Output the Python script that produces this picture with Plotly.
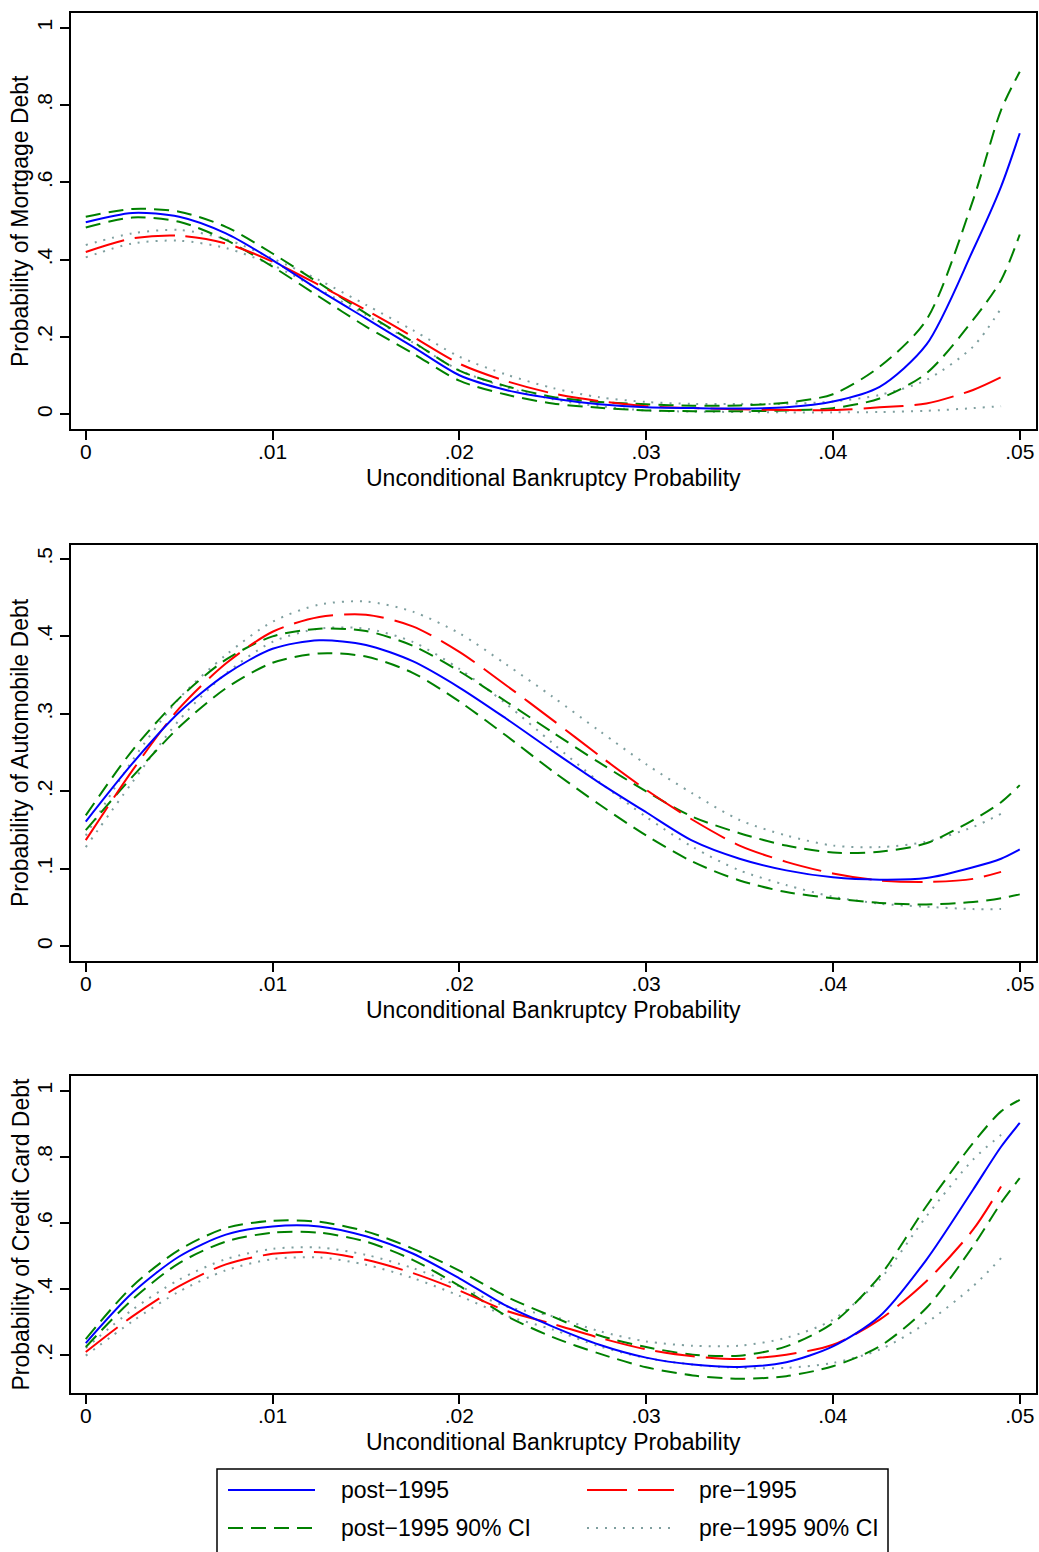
import plotly.graph_objects as go

# Grid of unconditional bankruptcy probabilities
x_post = [0, .0025, .005, .0075, .01, .0125, .015, .0175, .02, .0225, .025, .0275,
          .03, .0325, .035, .0375, .04, .0425, .045, .0475, .049, .05]
x_pre = x_post[:-1]

# ---- Mortgage debt ----
mort_post = [.497, .521, .511, .468, .399, .321, .248, .175, .101, .063, .041, .026,
             .018, .016, .015, .018, .033, .071, .180, .425, .589, .727]
mort_post_hi = [.511, .531, .524, .485, .416, .339, .261, .188, .113, .073, .045, .032,
                .026, .022, .023, .030, .052, .123, .244, .554, .787, .886]
mort_post_lo = [.483, .509, .498, .451, .382, .304, .227, .158, .087, .051, .028, .017,
                .010, .008, .008, .010, .016, .041, .106, .244, .347, .465]
mort_pre = [.420, .455, .462, .442, .395, .334, .270, .201, .131, .086, .054, .034,
            .021, .016, .013, .011, .011, .018, .028, .063, .096]
mort_pre_hi = [.438, .468, .477, .453, .403, .347, .283, .218, .149, .103, .068, .044,
               .032, .027, .027, .027, .033, .050, .089, .175, .274]
mort_pre_lo = [.406, .442, .449, .430, .386, .323, .257, .186, .114, .070, .039, .021,
               .010, .007, .006, .005, .005, .006, .009, .016, .021]

# ---- Automobile debt ----
auto_post = [.161, .236, .302, .351, .384, .395, .389, .368, .334, .294, .252, .211,
             .173, .136, .113, .098, .089, .086, .088, .102, .113, .125]
auto_post_hi = [.169, .253, .320, .370, .400, .410, .407, .388, .355, .316, .276, .237,
                .200, .167, .146, .130, .121, .122, .133, .163, .186, .208]
auto_post_lo = [.150, .219, .283, .333, .366, .378, .374, .353, .316, .272, .226, .183,
                .143, .109, .085, .070, .062, .056, .054, .057, .062, .067]
auto_pre = [.137, .227, .307, .365, .406, .425, .428, .413, .380, .337, .292, .246,
            .202, .163, .130, .109, .094, .085, .083, .087, .096]
auto_pre_hi = [.143, .240, .320, .376, .419, .441, .445, .432, .404, .364, .322, .278,
               .235, .197, .163, .143, .130, .128, .135, .154, .171]
auto_pre_lo = [.128, .212, .292, .352, .393, .410, .410, .393, .358, .313, .262, .212,
               .167, .128, .098, .079, .064, .055, .051, .048, .048]

# ---- Credit card debt ----
cc_post = [.237, .389, .499, .565, .590, .590, .560, .508, .433, .350, .287, .232,
           .193, .172, .165, .179, .227, .318, .489, .701, .831, .903]
cc_post_hi = [.249, .409, .519, .585, .607, .604, .575, .523, .456, .378, .317, .260,
              .225, .202, .199, .227, .298, .439, .651, .842, .938, .973]
cc_post_lo = [.225, .369, .479, .544, .571, .571, .544, .489, .410, .320, .255, .205,
              .164, .139, .129, .137, .167, .227, .343, .530, .661, .736]
cc_pre = [.210, .318, .409, .475, .507, .512, .489, .449, .396, .335, .295, .253,
          .218, .197, .189, .202, .232, .308, .424, .580, .711]
cc_pre_hi = [.222, .338, .429, .491, .522, .526, .504, .464, .409, .348, .318, .273,
             .242, .229, .229, .253, .308, .429, .620, .792, .867]
cc_pre_lo = [.199, .303, .393, .457, .491, .496, .474, .434, .380, .320, .278, .227,
             .192, .172, .162, .162, .177, .217, .298, .409, .494]

x_ticks = [0, .01, .02, .03, .04, .05]
x_tick_text = ["0", ".01", ".02", ".03", ".04", ".05"]

legend_labels = ["post−1995", "pre−1995", "post−1995 90% CI", "pre−1995 90% CI"]

panels = [
    dict(title="Probability of Mortgage Debt",
         ticks=[0, .2, .4, .6, .8, 1], labels=["0", ".2", ".4", ".6", ".8", "1"],
         yrange=[-0.038, 1.038], top=13, bottom=429, xtitle_y=478,
         data=(mort_post, mort_pre, mort_post_hi, mort_post_lo, mort_pre_hi, mort_pre_lo)),
    dict(title="Probability of Automobile Debt",
         ticks=[0, .1, .2, .3, .4, .5], labels=["0", ".1", ".2", ".3", ".4", ".5"],
         yrange=[-0.019, 0.518], top=545, bottom=961, xtitle_y=1010,
         data=(auto_post, auto_pre, auto_post_hi, auto_post_lo, auto_pre_hi, auto_pre_lo)),
    dict(title="Probability of Credit Card Debt",
         ticks=[.2, .4, .6, .8, 1], labels=[".2", ".4", ".6", ".8", "1"],
         yrange=[0.086, 1.045], top=1076, bottom=1393, xtitle_y=1442,
         data=(cc_post, cc_pre, cc_post_hi, cc_post_lo, cc_pre_hi, cc_pre_lo)),
]

W, H = 1039, 1552
FONT = "Liberation Sans, Arial, Helvetica, sans-serif"

BLUE = dict(color="#0000ff", width=2, dash="solid")
RED = dict(color="#ff0000", width=2, dash="40px,11px")
GREEN = dict(color="#008000", width=2, dash="15px,8px")
GRAY = dict(color="#7f9f9f", width=2, dash="2px,7px")


def px_x(v):
    return v / W


def px_y(v):
    return 1 - v / H


fig = go.Figure()
annotations = []
shapes = []
x_dom = [px_x(71), px_x(1036)]

for i, p in enumerate(panels, start=1):
    xa = "x" if i == 1 else f"x{i}"
    ya = "y" if i == 1 else f"y{i}"
    post, pre, post_hi, post_lo, pre_hi, pre_lo = p["data"]
    series = [
        (legend_labels[3], x_pre, pre_hi, GRAY),
        (legend_labels[3], x_pre, pre_lo, GRAY),
        (legend_labels[2], x_post, post_hi, GREEN),
        (legend_labels[2], x_post, post_lo, GREEN),
        (legend_labels[1], x_pre, pre, RED),
        (legend_labels[0], x_post, post, BLUE),
    ]
    for name, xs, ys, ln in series:
        fig.add_trace(go.Scatter(
            x=xs, y=ys, mode="lines", name=name,
            line=dict(shape="spline", smoothing=0.8, **ln),
            xaxis=xa, yaxis=ya, showlegend=False, hoverinfo="skip"))

    axis_common = dict(showline=True, linecolor="black", linewidth=1.5, mirror=True,
                       showgrid=False, zeroline=False, ticks="outside", ticklen=9,
                       tickwidth=1.5, tickcolor="black",
                       tickfont=dict(family=FONT, size=21, color="black"))
    dom = [px_y(p["bottom"]), px_y(p["top"])]
    fig.update_layout(**{
        ("xaxis" if i == 1 else f"xaxis{i}"): dict(
            domain=x_dom, range=[-0.00079, 0.05087], tickvals=x_ticks,
            ticktext=x_tick_text, anchor=ya, ticklabelstandoff=-6, **axis_common),
        ("yaxis" if i == 1 else f"yaxis{i}"): dict(
            domain=dom, range=p["yrange"], tickvals=p["ticks"],
            ticktext=p["labels"], tickangle=-90, anchor=xa, **axis_common),
    })
    annotations.append(dict(text=p["title"], x=px_x(20), y=(dom[0] + dom[1]) / 2,
                            xref="paper", yref="paper", textangle=-90, showarrow=False,
                            xanchor="center", yanchor="middle",
                            font=dict(family=FONT, size=23, color="black")))
    annotations.append(dict(text="Unconditional Bankruptcy Probability", x=px_x(553.5),
                            y=px_y(p["xtitle_y"]), xref="paper", yref="paper",
                            showarrow=False, xanchor="center", yanchor="middle",
                            font=dict(family=FONT, size=23, color="black")))

# Legend box below the last panel (two columns, two rows)
shapes.append(dict(type="rect", xref="paper", yref="paper",
                   x0=px_x(217), x1=px_x(888), y0=px_y(1469), y1=px_y(1570),
                   line=dict(color="black", width=1.5), fillcolor="white", layer="below"))
legend_items = [
    (legend_labels[0], BLUE, 228, 339, 1490),
    (legend_labels[1], RED, 587, 697, 1490),
    (legend_labels[2], GREEN, 228, 339, 1528),
    (legend_labels[3], GRAY, 587, 697, 1528),
]
for label, ln, sx, tx, ty in legend_items:
    shapes.append(dict(type="line", xref="paper", yref="paper",
                       x0=px_x(sx), x1=px_x(sx + 87), y0=px_y(ty), y1=px_y(ty),
                       line=ln))
    annotations.append(dict(text=label, x=px_x(tx), y=px_y(ty), xref="paper", yref="paper",
                            showarrow=False, xanchor="left", yanchor="middle",
                            font=dict(family=FONT, size=23, color="black")))

fig.update_layout(
    width=W, height=H, margin=dict(l=0, r=0, t=0, b=0),
    paper_bgcolor="white", plot_bgcolor="white",
    showlegend=False, annotations=annotations, shapes=shapes,
)

fig.write_html("out.html")
